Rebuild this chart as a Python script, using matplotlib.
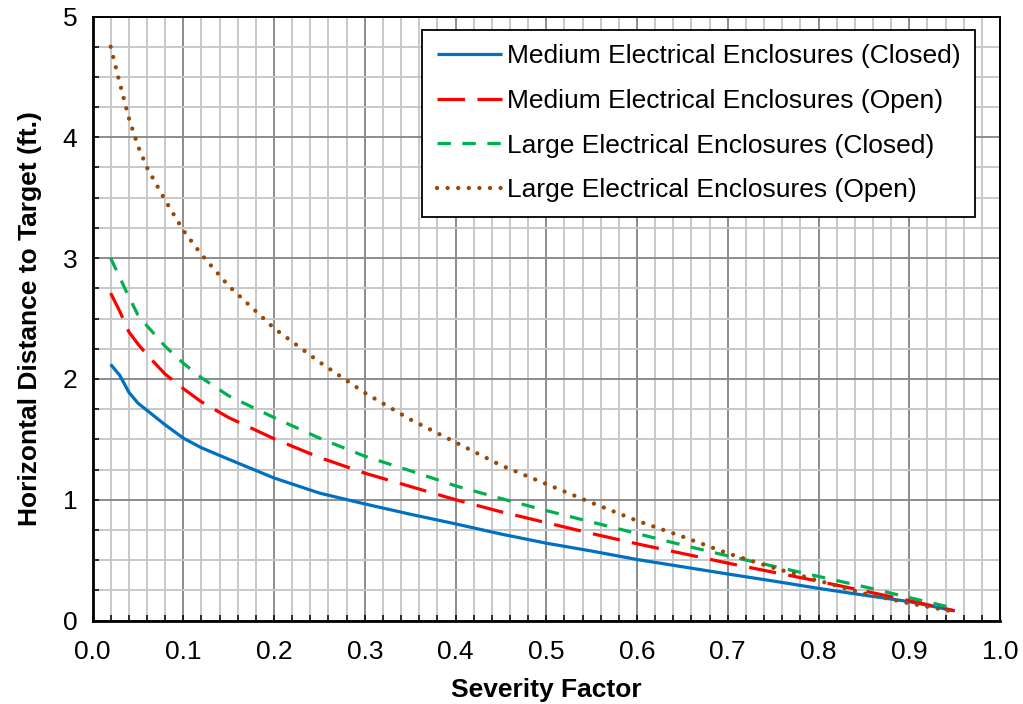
import matplotlib
matplotlib.use("Agg")
import matplotlib.pyplot as plt
from matplotlib.ticker import MultipleLocator, FormatStrFormatter

plt.rcParams['font.family'] = ['Liberation Sans', 'DejaVu Sans']

# Severity factor (x) and horizontal distance to target in ft (y)
severity = [0.02, 0.03, 0.04, 0.05, 0.06, 0.08, 0.10, 0.12, 0.15, 0.20, 0.25,
            0.30, 0.35, 0.40, 0.45, 0.50, 0.55, 0.60, 0.65, 0.70, 0.75, 0.80,
            0.85, 0.90, 0.95]

medium_closed = [2.12, 2.03, 1.89, 1.80, 1.74, 1.62, 1.51, 1.43, 1.335, 1.18, 1.055,
                 0.965, 0.88, 0.80, 0.716, 0.64, 0.575, 0.505, 0.445, 0.385, 0.327, 0.266,
                 0.21, 0.156, 0.08]
medium_open = [2.71, 2.56, 2.39, 2.29, 2.20, 2.04, 1.92, 1.81, 1.68, 1.505, 1.35,
               1.22, 1.11, 1.00, 0.90, 0.81, 0.72, 0.635, 0.555, 0.475, 0.40, 0.325,
               0.245, 0.165, 0.08]
large_closed = [3.00, 2.84, 2.68, 2.53, 2.44, 2.27, 2.13, 2.01, 1.86, 1.68, 1.51,
                1.36, 1.24, 1.115, 1.01, 0.91, 0.815, 0.72, 0.625, 0.535, 0.45, 0.365,
                0.28, 0.19, 0.10]
large_open = [4.75, 4.45, 4.16, 3.93, 3.75, 3.48, 3.23, 3.03, 2.77, 2.42, 2.14,
              1.885, 1.665, 1.475, 1.285, 1.13, 0.975, 0.826, 0.695, 0.556, 0.437, 0.33,
              0.224, 0.142, 0.073]

labels = ["Medium Electrical Enclosures (Closed)",
          "Medium Electrical Enclosures (Open)",
          "Large Electrical Enclosures (Closed)",
          "Large Electrical Enclosures (Open)"]

FS = 19

fig = plt.figure(figsize=(10.23, 7.04), dpi=100)
ax = fig.add_axes([92.5 / 1023, 83.5 / 704, 907.5 / 1023, 604 / 704])

ax.plot(severity, medium_closed, color='#0070C0', lw=2.3, solid_capstyle='butt',
        solid_joinstyle='round', label=labels[0], zorder=3)
ax.plot(severity, medium_open, color='#FF0000', lw=2.3, linestyle=(0, (8.6, 3.9)),
        dash_capstyle='butt', label=labels[1], zorder=3)
ax.plot(severity, large_closed, color='#00B050', lw=2.3, linestyle=(0, (4.2, 3.6)),
        dash_capstyle='butt', label=labels[2], zorder=3)
ax.plot(severity, large_open, color='#984807', lw=3.1, linestyle=(0, (0.01, 2.45)),
        dash_capstyle='round', label=labels[3], zorder=3)

ax.set_xlim(0, 1.0)
ax.set_ylim(0, 5)
ax.xaxis.set_major_locator(MultipleLocator(0.1))
ax.xaxis.set_minor_locator(MultipleLocator(0.02))
ax.yaxis.set_major_locator(MultipleLocator(1))
ax.yaxis.set_minor_locator(MultipleLocator(0.25))
ax.xaxis.set_major_formatter(FormatStrFormatter('%.1f'))
ax.yaxis.set_major_formatter(FormatStrFormatter('%d'))

ax.grid(which='minor', color='#C8C8C8', lw=1.4, zorder=0)
ax.grid(which='major', color='#8C8C8C', lw=1.4, zorder=1)
ax.set_axisbelow(True)

ax.tick_params(which='both', direction='in', length=4.2, width=1.1, color='black',
               top=False, right=False)
ax.tick_params(axis='x', which='major', labelsize=FS, pad=14)
ax.tick_params(axis='y', which='major', labelsize=FS, pad=11)

for side in ('left', 'bottom'):
    ax.spines[side].set_linewidth(2.0)
for side in ('top', 'right'):
    ax.spines[side].set_linewidth(1.4)
for s in ax.spines.values():
    s.set_color('black')

ax.set_xlabel("Severity Factor", fontsize=FS, fontweight='bold', labelpad=10)
ax.set_ylabel("Horizontal Distance to Target (ft.)", fontsize=FS, fontweight='bold',
              labelpad=15)

leg = ax.legend(loc='upper right', bbox_to_anchor=(0.9725, 0.9777), borderaxespad=0,
                fontsize=FS, frameon=True, fancybox=False, shadow=False,
                handlelength=2.46, handletextpad=0.2, labelspacing=0.78,
                borderpad=0.55)
leg.get_frame().set_edgecolor('black')
leg.get_frame().set_linewidth(1.3)
leg.get_frame().set_facecolor('white')
leg.get_frame().set_alpha(1)
leg.set_zorder(5)

fig.savefig("out.png", dpi=100)
